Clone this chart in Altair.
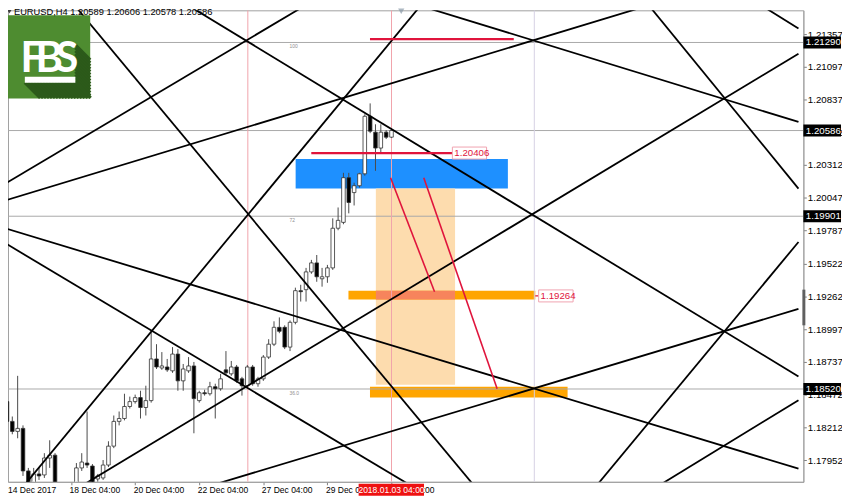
import altair as alt
import pandas as pd

FONT = "Liberation Sans"

# ---------------- data ----------------
# H4 bar number counted from 14 Dec 2017 00:00 (bar 73 = 2018.01.03 04:00)
bar_index = [1, 2, 3, 4, 5, 6, 7, 8, 9, 10,
             14, 15, 16, 17, 18, 19, 20, 21, 22, 23,
             24, 25, 26, 27, 28, 29, 30, 31, 32, 33,
             34, 35, 36, 37, 38, 39, 40, 41, 42, 43,
             44, 45, 46, 47, 48, 49, 50, 51, 52, 53,
             54, 55, 56, 57, 58, 59, 60, 61, 62, 63,
             64, 65, 66, 67, 68, 69, 70, 71, 72, 73]
bar_open = [1.18419, 1.18261, 1.18181, 1.18205, 1.17865, 1.17770, 1.17841, 1.17833, 1.17968, 1.17991,
            1.17730, 1.17889, 1.17928, 1.17904, 1.17801, 1.17809, 1.17912, 1.18063, 1.18261, 1.18284,
            1.18380, 1.18419, 1.18451, 1.18372, 1.18427, 1.18760, 1.18688, 1.18696, 1.18665, 1.18799,
            1.18585, 1.18665, 1.18704, 1.18427, 1.18490, 1.18482, 1.18538, 1.18522, 1.18673, 1.18641,
            1.18696, 1.18601, 1.18546, 1.18696, 1.18562, 1.18601, 1.18775, 1.18878, 1.19013, 1.19013,
            1.18855, 1.19053, 1.19306, 1.19314, 1.19456, 1.19528, 1.19401, 1.19417, 1.19488, 1.19805,
            1.19852, 1.20209, 1.20090, 1.20145, 1.20240, 1.20700, 1.20573, 1.20446, 1.20573, 1.20533]
bar_high = [1.18459, 1.18300, 1.18625, 1.18229, 1.17889, 1.17889, 1.17889, 1.18007, 1.18110, 1.18007,
            1.17928, 1.18007, 1.18340, 1.17920, 1.17841, 1.17952, 1.18102, 1.18308, 1.18340, 1.18482,
            1.18459, 1.18475, 1.18506, 1.18546, 1.18973, 1.18878, 1.18815, 1.18760, 1.18855, 1.18839,
            1.18720, 1.18775, 1.18736, 1.18506, 1.18514, 1.18577, 1.18562, 1.18641, 1.18823, 1.18744,
            1.18712, 1.18617, 1.18712, 1.18712, 1.18617, 1.18791, 1.18918, 1.19061, 1.19092, 1.19029,
            1.19068, 1.19330, 1.19353, 1.19488, 1.19552, 1.19591, 1.19488, 1.19512, 1.19884, 1.19971,
            1.20248, 1.20248, 1.20169, 1.20248, 1.20716, 1.20803, 1.20636, 1.20636, 1.20589, 1.20606]
bar_low = [1.18237, 1.18158, 1.18126, 1.17825, 1.17691, 1.17749, 1.17793, 1.17809, 1.17889, 1.17691,
           1.17691, 1.17865, 1.17889, 1.17754, 1.17778, 1.17793, 1.17896, 1.18047, 1.18229, 1.18269,
           1.18364, 1.18403, 1.18284, 1.18308, 1.18411, 1.18680, 1.18673, 1.18657, 1.18649, 1.18506,
           1.18506, 1.18649, 1.18166, 1.18411, 1.18467, 1.18467, 1.18284, 1.18506, 1.18633, 1.18625,
           1.18570, 1.18467, 1.18530, 1.18546, 1.18538, 1.18585, 1.18760, 1.18863, 1.18966, 1.18839,
           1.18823, 1.19037, 1.19219, 1.19219, 1.19441, 1.19377, 1.19338, 1.19369, 1.19472, 1.19789,
           1.19837, 1.19924, 1.19987, 1.20130, 1.20225, 1.20565, 1.20264, 1.20407, 1.20518, 1.20526]
bar_close = [1.18261, 1.18181, 1.18205, 1.17865, 1.17730, 1.17841, 1.17825, 1.17968, 1.17991, 1.17730,
             1.17889, 1.17936, 1.17912, 1.17770, 1.17825, 1.17912, 1.18063, 1.18261, 1.18284, 1.18380,
             1.18419, 1.18451, 1.18372, 1.18427, 1.18760, 1.18696, 1.18704, 1.18673, 1.18799, 1.18585,
             1.18680, 1.18704, 1.18443, 1.18490, 1.18482, 1.18538, 1.18522, 1.18601, 1.18649, 1.18696,
             1.18585, 1.18546, 1.18696, 1.18562, 1.18601, 1.18775, 1.18878, 1.19013, 1.18981, 1.18855,
             1.19053, 1.19306, 1.19298, 1.19456, 1.19528, 1.19417, 1.19417, 1.19488, 1.19805, 1.19868,
             1.20209, 1.20011, 1.20145, 1.20240, 1.20700, 1.20581, 1.20446, 1.20573, 1.20533, 1.20586]

# black trend / fan lines (bar number, price)
trend_i0 = [34.90, 13.66, 4.32, 0.66, 0.66, 121.17, 78.13, 142.23, 15.31, 0.66, 39.67, 111.83, 123.92, 0.66]
trend_p0 = [1.21587, 1.21587, 1.17754, 1.20161, 1.20027, 1.21587, 1.21587, 1.21587, 1.17754, 1.19805,
            1.17754, 1.17770, 1.17770, 1.19686]
trend_i1 = [149.2, 88.02, 78.49, 56.88, 121.17, 149.2, 149.2, 149.2, 149.2, 149.2, 149.2, 149.2, 149.2, 75.75]
trend_p1 = [1.18620, 1.17770, 1.21587, 1.21587, 1.21587, 1.20122, 1.20655, 1.21402, 1.21200, 1.17883,
            1.19160, 1.19695, 1.18430, 1.17770]

# zones
zone_name = ["blue", "peach", "orange1", "orange2"]
zone_i0 = [55.05, 70.07, 64.94, 68.97]
zone_i1 = [94.79, 84.90, 99.92, 105.97]
zone_p0 = [1.20359, 1.20122, 1.19306, 1.18538]
zone_p1 = [1.20122, 1.18554, 1.19235, 1.18451]
zone_col = ["#1e90ff", "#fddcae", "#ffa500", "#ffa500"]

# red segments
red_i0 = [68.97, 57.98, 72.82, 79.04, 99.92]
red_i1 = [95.89, 84.40, 81.06, 92.78, 100.55]
red_p0 = [1.21317, 1.20406, 1.20209, 1.20209, 1.19264]
red_p1 = [1.21317, 1.20406, 1.19298, 1.18522, 1.19264]
red_w = [2.2, 2.2, 1.6, 1.6, 1.2]

# red price labels
lab_text = ["1.20406", "1.19264"]
lab_i0 = [84.40, 100.55]
lab_i1 = [90.80, 107.00]
lab_p = [1.20406, 1.19264]

# horizontal levels
level_p = [1.21290, 1.20586, 1.19901, 1.18520]
fib_text = ["100", "72", "36.0"]
fib_p = [1.21290, 1.19901, 1.18520]
fib_i = [53.9, 53.9, 53.9]

# vertical lines
vline_i = [46.1, 73.0, 99.74]
vline_col = ["#f1a3ab", "#f1a3ab", "#d6d0e4"]

# axes
price_ticks = [1.21357, 1.21097, 1.20837, 1.20572, 1.20312, 1.20047, 1.19787, 1.19522,
               1.19262, 1.18997, 1.18737, 1.18472, 1.18212, 1.17952]
boxed_prices = [1.21290, 1.20586, 1.19901, 1.18520]
time_tick_index = [13, 25, 37, 49, 61, 73]
time_tick_text = ["18 Dec 04:00", "20 Dec 04:00", "22 Dec 04:00", "27 Dec 04:00", "29 Dec 04:00", "3 Jan 04:00"]
first_label = "14 Dec 2017"
cursor_index = [73]
cursor_text = ["2018.01.03 04:00"]
header = "EURUSD,H4  1.20589 1.20606 1.20578 1.20586"

X_DOMAIN = [2.12, 149.19]
Y_DOMAIN = [1.17778, 1.21547]
W, H = 803, 476

# ---------------- scales / axes ----------------
xs = alt.Scale(domain=X_DOMAIN, nice=False, zero=False)
ys = alt.Scale(domain=Y_DOMAIN, nice=False, zero=False)

expr = "''"
for v, t in reversed(list(zip(time_tick_index, time_tick_text))):
    expr = f"datum.value == {v} ? '{t}' : ({expr})"

x_axis = alt.Axis(values=time_tick_index, labelExpr=expr, labelAlign="left", labelBaseline="top",
                  labelFont=FONT, labelFontSize=8.6, labelColor="black", labelPadding=1, labelOffset=-2,
                  tickSize=3, tickColor="#808080", domainColor="#a0a0a0", grid=False, title=None,
                  labelOverlap=False, labelFlush=False, labelBound=False)
y_axis = alt.Axis(orient="right", values=price_ticks, format=".5f", labelFont=FONT, labelFontSize=9.8,
                  labelColor="black", labelPadding=1, tickSize=3, tickColor="#808080",
                  domainColor="#a0a0a0", grid=False, title=None, labelOverlap=False, labelFlush=False)


def X(f):
    return alt.X(f, type="quantitative", scale=xs, axis=x_axis)


def Y(f):
    return alt.Y(f, type="quantitative", scale=ys, axis=y_axis)


# ---------------- tables ----------------
candles = pd.DataFrame({"i": bar_index, "open": bar_open, "high": bar_high,
                        "low": bar_low, "close": bar_close})
candles["fill"] = ["white" if c >= o else "black" for o, c in zip(bar_open, bar_close)]

trend = pd.DataFrame({"i0": trend_i0, "i1": trend_i1, "p0": trend_p0, "p1": trend_p1})
zones = pd.DataFrame({"name": zone_name, "i0": zone_i0, "i1": zone_i1, "p0": zone_p0,
                      "p1": zone_p1, "col": zone_col})
pe = zones[zones.name == "peach"].iloc[0]
o1 = zones[zones.name == "orange1"].iloc[0]
overlap = pd.DataFrame({"i0": [max(pe.i0, o1.i0)], "i1": [min(pe.i1, o1.i1)],
                        "p0": [o1.p0], "p1": [o1.p1], "col": ["#f7845c"]})
reds = pd.DataFrame({"i0": red_i0, "i1": red_i1, "p0": red_p0, "p1": red_p1, "w": red_w})
labels = pd.DataFrame({"t": lab_text, "i0": lab_i0, "i1": lab_i1, "p": lab_p})
labels["lo"] = labels.p - 0.00048
labels["hi"] = labels.p + 0.00048
levels = pd.DataFrame({"p": level_p})
fibs = pd.DataFrame({"t": fib_text, "p": fib_p, "i": fib_i})
vlines = pd.DataFrame({"i": vline_i, "col": vline_col})
boxed = pd.DataFrame({"p": boxed_prices})
boxed["t"] = [f"{p:.5f}" for p in boxed_prices]
boxed["lo"] = boxed.p - 0.00048
boxed["hi"] = boxed.p + 0.00048
cursor = pd.DataFrame({"i": cursor_index, "t": cursor_text})
one = pd.DataFrame({"a": [0]})

# ---------------- layers ----------------
zone_layer = alt.Chart(zones).mark_rect(clip=True).encode(
    x=X("i0"), x2="i1", y=Y("p0"), y2="p1", color=alt.Color("col:N", scale=None))
overlap_layer = alt.Chart(overlap).mark_rect(clip=True).encode(
    x=X("i0"), x2="i1", y=Y("p0"), y2="p1", color=alt.Color("col:N", scale=None))
level_layer = alt.Chart(levels).mark_rule(color="#a9a9a9", strokeWidth=1, clip=True).encode(y=Y("p"))
vline_layer = alt.Chart(vlines).mark_rule(strokeWidth=1, clip=True).encode(
    x=X("i"), color=alt.Color("col:N", scale=None))
fib_layer = alt.Chart(fibs).mark_text(fontSize=5, color="#909090", font=FONT, baseline="top",
                                      align="left", dy=2).encode(x=X("i"), y=Y("p"), text="t:N")
wick_layer = alt.Chart(candles).mark_rule(color="#4a4a4a", strokeWidth=1, clip=True).encode(
    x=X("i"), y=Y("low"), y2="high")
body_layer = alt.Chart(candles).mark_bar(size=3.6, stroke="#303030", strokeWidth=0.8, clip=True).encode(
    x=X("i"), y=Y("open"), y2="close", fill=alt.Fill("fill:N", scale=None))
trend_layer = alt.Chart(trend).mark_rule(color="black", strokeWidth=1.8, clip=True).encode(
    x=X("i0"), x2="i1", y=Y("p0"), y2="p1")
red_layer = alt.Chart(reds).mark_rule(color="#e0143c", clip=True).encode(
    x=X("i0"), x2="i1", y=Y("p0"), y2="p1", strokeWidth=alt.StrokeWidth("w:Q", scale=None))
lab_box = alt.Chart(labels).mark_rect(fill="white", stroke="#f0a3b0", strokeWidth=1).encode(
    x=X("i0"), x2="i1", y=Y("lo"), y2="hi")
lab_txt = alt.Chart(labels).mark_text(align="left", baseline="middle", color="#e0143c", font=FONT,
                                      fontSize=9.8, dx=2).encode(x=X("i0"), y=Y("p"), text="t:N")

# price-axis boxes
ax_box = alt.Chart(boxed).mark_rect(color="black").encode(
    x=alt.value(W), x2=alt.value(W + 38), y=Y("lo"), y2="hi")
ax_txt = alt.Chart(boxed).mark_text(align="left", baseline="middle", color="white", font=FONT,
                                    fontSize=9.8).encode(x=alt.value(W + 2.5), y=Y("p"), text="t:N")
ax_mark = alt.Chart(pd.DataFrame({"lo": [1.19029], "hi": [1.19314]})).mark_rect(color="#606060").encode(
    x=alt.value(W - 1), x2=alt.value(W + 2), y=Y("lo"), y2="hi")

# time axis extras
first_txt = alt.Chart(one).mark_text(align="left", baseline="top", font=FONT, fontSize=8.6,
                                     color="black").encode(x=alt.value(0), y=alt.value(H + 4),
                                                           text=alt.value(first_label))
cur_box = alt.Chart(cursor).mark_rect(color="#ee1111").encode(
    x=alt.value(354), x2=alt.value(420), y=alt.value(H + 2), y2=alt.value(H + 14))
cur_txt = alt.Chart(cursor).mark_text(align="center", baseline="middle", font=FONT, fontSize=8.6,
                                      color="white").encode(x=X("i"), y=alt.value(H + 8), text="t:N")

# header & markers
head_tri = alt.Chart(one).mark_point(shape="triangle-down", filled=True, color="black", size=16).encode(
    x=alt.value(1.5), y=alt.value(1.5))
head_txt = alt.Chart(one).mark_text(align="left", baseline="middle", font=FONT, fontSize=9.4,
                                    color="black").encode(x=alt.value(6), y=alt.value(1.5),
                                                          text=alt.value(header))
shift_tri = alt.Chart(one).mark_point(shape="triangle-down", filled=True, color="#8a9aa8", size=40).encode(
    x=alt.value(397), y=alt.value(1))

# FBS logo (pixel-placed decoration): square, long 45-degree shadow, letters, underline
logo_bg = alt.Chart(one).mark_rect(color="#4e8c30").encode(
    x=alt.value(0), x2=alt.value(83), y=alt.value(5), y2=alt.value(89))
shadow_layers = []
for y0 in range(35, 74, 3):          # from the right side of the letters
    shadow_layers.append(alt.Chart(one).mark_rule(color="#2c5a1a", strokeWidth=3.2).encode(
        x=alt.value(68), x2=alt.value(83), y=alt.value(y0), y2=alt.value(y0 + 15)))
for x0 in range(17, 69, 3):          # from the bottom of the underline
    shadow_layers.append(alt.Chart(one).mark_rule(color="#2c5a1a", strokeWidth=3.2).encode(
        x=alt.value(x0), x2=alt.value(x0 + 15.5), y=alt.value(73), y2=alt.value(88.5)))
logo_letters = pd.DataFrame({"t": ["F", "B", "S"], "x": [24.5, 41.5, 59.5]})
logo_txt = alt.Chart(logo_letters).mark_text(font="Lato", fontWeight="bold", fontSize=42, color="white",
                                             align="center", baseline="alphabetic").encode(
    x=alt.X("x:Q", scale=None), y=alt.value(62), text="t:N")
logo_bar = alt.Chart(one).mark_rect(color="white").encode(
    x=alt.value(17), x2=alt.value(68), y=alt.value(67), y2=alt.value(73))

chart = alt.layer(
    zone_layer, overlap_layer, level_layer, vline_layer, fib_layer,
    wick_layer, body_layer, trend_layer, red_layer, lab_box, lab_txt,
    ax_box, ax_txt, ax_mark, first_txt, cur_box, cur_txt,
    logo_bg, *shadow_layers, logo_txt, logo_bar, head_tri, head_txt, shift_tri,
).properties(
    width=W, height=H,
    padding={"left": 0, "top": 0, "right": 39, "bottom": 14},
    autosize=alt.AutoSizeParams(type="none"),
    background="white",
).configure_view(stroke="#a0a0a0", strokeWidth=1)

chart.save("out.html", embed_options={"renderer": "svg", "actions": False})
